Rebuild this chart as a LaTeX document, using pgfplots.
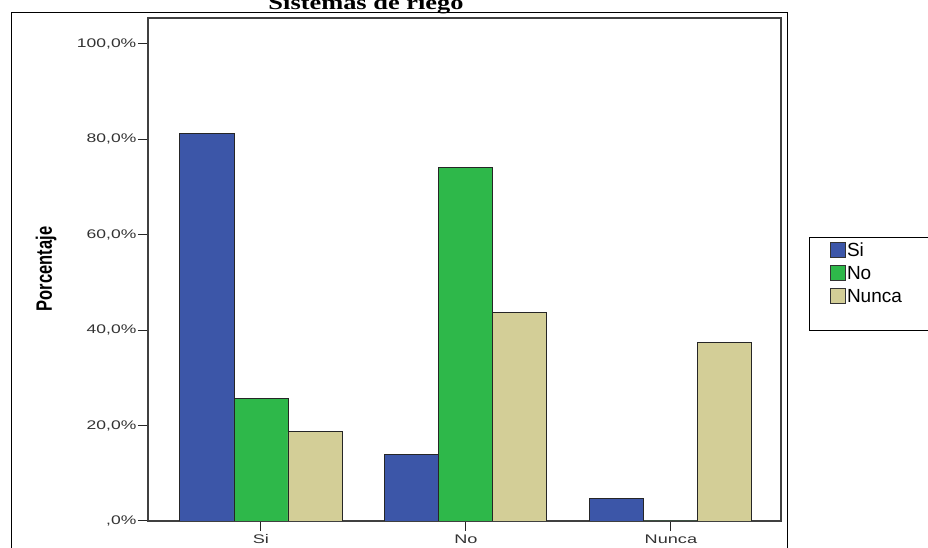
\documentclass[border=0pt]{standalone}
\usepackage{pgfplots}
\pgfplotsset{compat=1.18}
\usepackage{fontspec}
\setmainfont{Liberation Sans}
\newfontfamily\titlefont{Liberation Serif}
\definecolor{cblue}{HTML}{3C56A8}
\definecolor{cgreen}{HTML}{2EB84A}
\definecolor{ctan}{HTML}{D3CE97}
\begin{document}
\begin{tikzpicture}[x=1pt,y=1pt]
\useasboundingbox (0,0) rectangle (928,548);
\clip (0,0) rectangle (928,548);
\draw[black, line width=0.9pt] (11,536) rectangle (787,-10);
\node[font=\titlefont\bfseries\fontsize{20}{20}\selectfont, xscale=1.32, anchor=base] at (366,538.5) {Sistemas de riego};
\node[font=\bfseries\fontsize{16.5}{16.5}\selectfont, rotate=90, yscale=1.35] at (46,279) {Porcentaje};
\draw[black, line width=0.8pt] (809,311) rectangle (940,218);
\begin{axis}[
  at={(148pt,27pt)}, anchor=south west, scale only axis,
  width=633pt, height=503pt,
  xmin=-0.551, xmax=2.537, ymin=0, ymax=105.45,
  ybar=0pt, bar width=54pt,
  xtick={0,1,2}, xticklabels={Si,No,Nunca},
  ytick={0,20,40,60,80,100},
  yticklabels={{,0\%},{20,0\%},{40,0\%},{60,0\%},{80,0\%},{100,0\%}},
  tick pos=left,
  tick align=outside, major tick length=10pt,
  tick style={draw=black!85, line width=1pt},
  axis line style={draw=black!75, line width=1.3pt},
  tick label style={font=\fontsize{12.5}{12.5}\selectfont, text=black!80},
  yticklabel style={xscale=1.4, inner sep=1pt},
  xticklabel style={xscale=1.45},
  legend style={at={(1.0774,0.5547)}, anchor=north west, draw=none, fill=none,
    font=\fontsize{19}{19}\selectfont, inner sep=0pt, row sep=6pt,
    nodes={inner xsep=1pt, inner ysep=1pt}},
  legend cell align=left,
  legend image code/.code={\draw[#1, draw=black!80, line width=0.8pt] (0pt,-7pt) rectangle (15pt,8pt);},
]
\addplot[fill=cblue, draw=black!85, line width=0.9pt] coordinates {(0,81.3) (1,14.0) (2,4.8)};
\addplot[fill=cgreen, draw=black!85, line width=0.9pt] coordinates {(0,25.6) (1,74.2) (2,0)};
\addplot[fill=ctan, draw=black!85, line width=0.9pt] coordinates {(0,18.7) (1,43.8) (2,37.5)};
\legend{Si,No,Nunca}
\end{axis}
\end{tikzpicture}
\end{document}
